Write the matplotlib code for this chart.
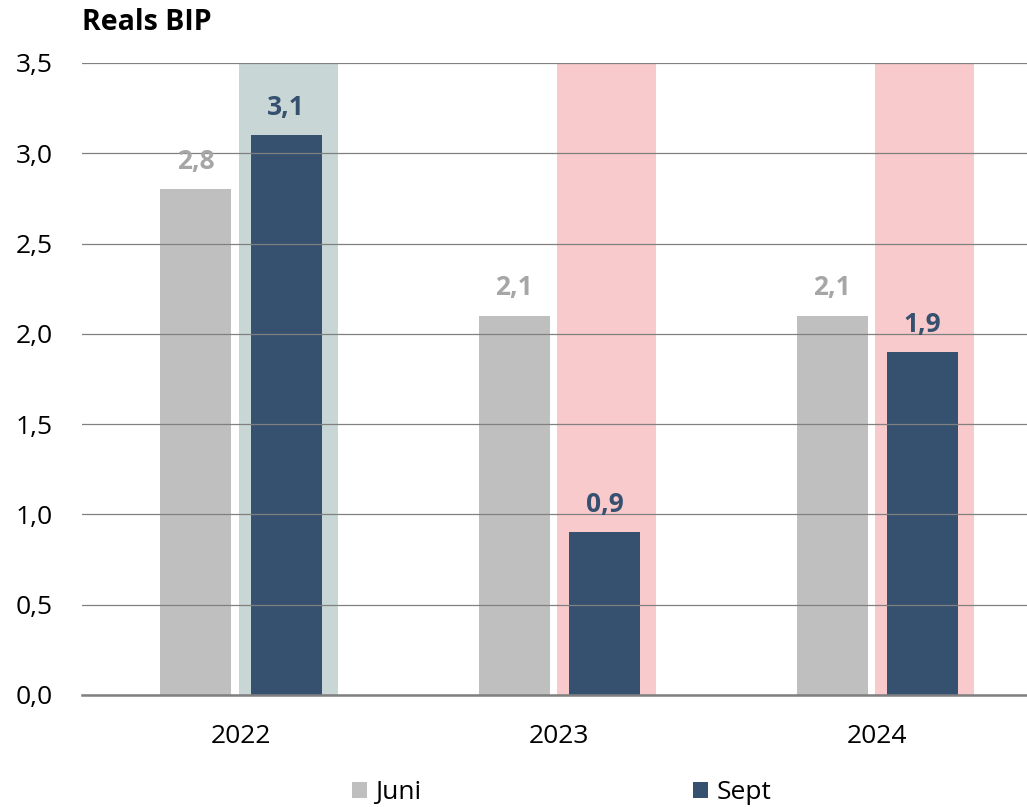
import matplotlib.pyplot as plt
import numpy as np

plt.rcParams['font.family'] = ['Open Sans', 'DejaVu Sans']

years = ['2022', '2023', '2024']
juni = [2.8, 2.1, 2.1]
sept = [3.1, 0.9, 1.9]
series_names = ['Juni', 'Sept']
shade_colors = ['#C8D6D6', '#F8CACC', '#F8CACC']

C_JUNI = '#BFBFBF'
C_SEPT = '#36506F'

def fmt(v):
    return f"{v:.1f}".replace('.', ',')

fig = plt.figure(figsize=(10.27, 8.07), dpi=100)
ax = fig.add_axes([0.0798, 0.1388, 0.9202, 0.7832])

x = np.arange(len(years))
off = 0.142
w = 0.223

# highlight bands behind Sept bars
for i, c in enumerate(shade_colors):
    ax.bar(x[i] + 0.149, 3.5, width=0.311, color=c, zorder=0)

ax.bar(x - off, juni, width=w, color=C_JUNI, zorder=2, label=series_names[0])
ax.bar(x + off, sept, width=w, color=C_SEPT, zorder=2, label=series_names[1])

for i in range(len(years)):
    ax.annotate(fmt(juni[i]), (x[i] - off, juni[i]), xytext=(0, 20),
                textcoords='offset points', ha='center', va='center',
                fontsize=19, fontweight='bold', color='#A6A6A6')
    ax.annotate(fmt(sept[i]), (x[i] + off, sept[i]), xytext=(0, 20),
                textcoords='offset points', ha='center', va='center',
                fontsize=19, fontweight='bold', color=C_SEPT)

ax.set_ylim(0, 3.5)
ax.set_xlim(-0.5, 2.47)
yt = np.arange(0, 3.51, 0.5)
ax.set_yticks(yt)
ax.set_yticklabels([fmt(v) for v in yt])
ax.set_xticks(x)
ax.set_xticklabels(years)
ax.tick_params(axis='y', length=0, pad=21, labelsize=19)
ax.tick_params(axis='x', length=0, pad=21, labelsize=19)

ax.grid(axis='y', color='#808080', linewidth=0.9, zorder=1)
ax.set_axisbelow(False)
for s in ['top', 'right', 'left']:
    ax.spines[s].set_visible(False)
ax.spines['bottom'].set_color('#808080')
ax.spines['bottom'].set_linewidth(1.8)
ax.spines['bottom'].set_zorder(3)

fig.text(0.0798, 0.972, 'Reals BIP', fontsize=20.5, fontweight='bold',
         ha='left', va='center')

h, l = ax.get_legend_handles_labels()
fig.legend(h, l, loc='center', bbox_to_anchor=(0.547, 0.018), ncol=2,
           frameon=False, fontsize=19, handlelength=0.57, handleheight=0.57,
           handletextpad=0.3, columnspacing=10.3)

fig.savefig('out.png', dpi=100)
